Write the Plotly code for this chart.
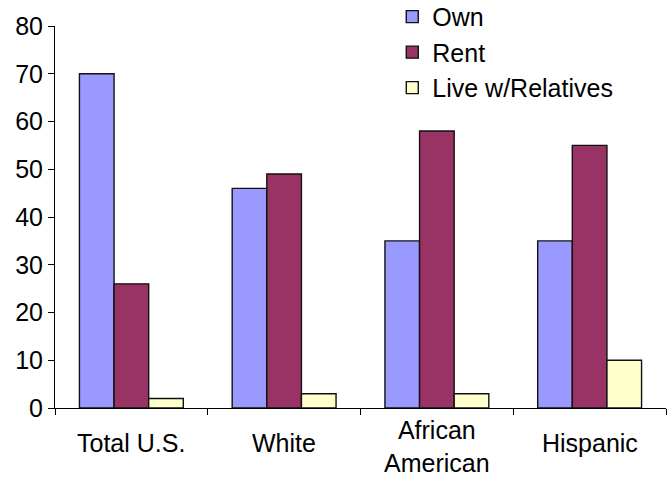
import plotly.graph_objects as go

categories = ["Total U.S.", "White", "African<br>American", "Hispanic"]
own = [70, 46, 35, 35]
rent = [26, 49, 58, 55]
relatives = [2, 3, 3, 10]
y_ticks = [0, 10, 20, 30, 40, 50, 60, 70, 80]

series = [
    ("Own", own, "#9999FF"),
    ("Rent", rent, "#993366"),
    ("Live w/Relatives", relatives, "#FFFFCC"),
]

fig = go.Figure()
for name, vals, color in series:
    fig.add_trace(go.Bar(
        x=categories, y=vals, name=name,
        marker=dict(color=color, line=dict(color="#111111", width=1.4)),
    ))

font = "Liberation Sans, Arial, sans-serif"

# Category labels under each group: one-line labels centred just below the
# axis, the two-line label sitting on the bottom edge of the page
for cat in categories:
    if "<br>" in cat:
        pos = dict(y=-0.186, yanchor="bottom")
    else:
        pos = dict(y=-0.0916, yanchor="middle")
    fig.add_annotation(
        x=cat, xref="x", yref="paper", text=cat, showarrow=False,
        xanchor="center", font=dict(family=font, size=25, color="#000000"), **pos,
    )

fig.update_layout(
    width=670, height=480,
    margin=dict(l=55, r=4, t=26, b=72, autoexpand=False),
    paper_bgcolor="white", plot_bgcolor="white",
    barmode="group", bargap=0.32, bargroupgap=0,
    font=dict(family=font, size=25, color="#000000"),
    legend=dict(
        x=0.552, y=1.084, xanchor="left", yanchor="top",
        font=dict(family=font, size=25, color="#000000"),
        bgcolor="rgba(0,0,0,0)", itemclick=False,
    ),
    showlegend=True,
)
fig.update_xaxes(
    showline=True, linecolor="#000000", linewidth=1, automargin=False,
    ticks="outside", tickson="boundaries", ticklen=6, tickcolor="#000000",
    showticklabels=False, showgrid=False,
)
fig.update_yaxes(
    range=[0, 80], tickvals=y_ticks, showline=True, linecolor="#000000", linewidth=1,
    automargin=False,
    ticks="outside", ticklen=6, tickcolor="#000000",
    tickfont=dict(family=font, size=25), showgrid=False, zeroline=False,
)

fig.write_html("out.html")
